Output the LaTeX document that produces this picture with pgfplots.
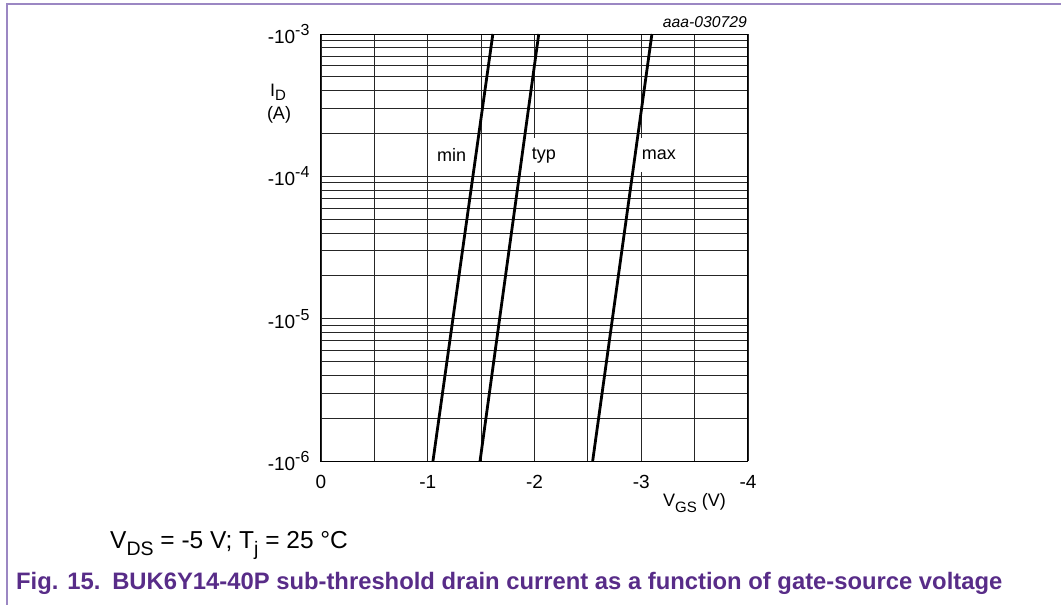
\documentclass[border=0pt]{standalone}
\usepackage{fontspec}
\setmainfont{Liberation Sans}
\usepackage{pgfplots}
\pgfplotsset{compat=1.18}
\definecolor{borderpurple}{RGB}{155,135,195}
\definecolor{titlepurple}{RGB}{88,44,136}
\newcommand{\sz}[1]{\fontsize{#1}{#1}\selectfont}
\newcommand{\ytl}[1]{-10\raisebox{0.42em}{\sz{16}#1}}
\newcommand{\sub}[2]{\raisebox{-0.28em}{\sz{#1}#2}}
\newcommand{\subs}[2]{\raisebox{-0.2em}{\sz{#1}#2}}
\begin{document}
\begin{tikzpicture}[x=1pt,y=1pt]
\path[use as bounding box] (0,0) rectangle (1061,605);
\draw[borderpurple, line width=1.6pt] (7,0) -- (7,601) -- (1061,601);
\begin{axis}[
  at={(321pt,144pt)}, anchor=south west,
  scale only axis, width=427pt, height=427pt,
  xmin=-4, xmax=0, x dir=reverse,
  ymode=log, ymin=1e-6, ymax=1e-3,
  xtick={0,-1,-2,-3,-4}, xticklabels={0,-1,-2,-3,-4},
  minor xtick={-0.5,-1.5,-2.5,-3.5},
  ytick={1e-6,1e-5,1e-4,1e-3},
  yticklabels={\ytl{-6},\ytl{-5},\ytl{-4},\ytl{-3}},
  minor ytick={2e-6,3e-6,4e-6,5e-6,6e-6,7e-6,8e-6,9e-6,
               2e-5,3e-5,4e-5,5e-5,6e-5,7e-5,8e-5,9e-5,
               2e-4,3e-4,4e-4,5e-4,6e-4,7e-4,8e-4,9e-4},
  grid=both,
  major grid style={black!85, line width=0.8pt},
  minor grid style={black!85, line width=0.8pt},
  major tick length=0pt, minor tick length=0pt,
  axis line style={black, line width=1pt},
  ticklabel style={font=\sz{19}},
  xticklabel style={yshift=-11pt},
  yticklabel style={xshift=-8pt},
  clip=false,
]
\addplot[black, line width=2.8pt] coordinates {(-1.049,1e-6) (-1.61,1e-3)};
\addplot[black, line width=2.8pt] coordinates {(-1.49,1e-6) (-2.04,1e-3)};
\addplot[black, line width=2.8pt] coordinates {(-2.545,1e-6) (-3.10,1e-3)};
\node[fill=white, inner xsep=1.5pt, inner ysep=0pt, minimum height=34pt, font=\sz{18}] at (axis cs:-1.224,1.41e-4) {min};
\node[fill=white, inner xsep=1.5pt, inner ysep=0pt, minimum height=34pt, font=\sz{18}] at (axis cs:-2.089,1.41e-4) {typ};
\node[fill=white, inner xsep=1.5pt, inner ysep=0pt, minimum height=34pt, font=\sz{18}] at (axis cs:-3.166,1.41e-4) {max};
\end{axis}
\node[anchor=base, font=\sz{18}, inner sep=0pt] at (278,508) {I\subs{15}{D}};
\node[anchor=base, font=\sz{18}, inner sep=0pt] at (279,485) {(A)};
\node[anchor=base east, font=\sz{15.7}\itshape, inner sep=0pt] at (747,577) {aaa-030729};
\node[anchor=base west, font=\sz{18}, inner sep=0pt] at (663,98) {V\sub{15}{GS} (V)};
\node[anchor=base west, font=\sz{24.5}, inner sep=0pt] at (110,56) {V\sub{19.5}{DS} = -5 V; T\sub{19.5}{j} = 25 °C};
\node[anchor=base west, font=\sz{23.8}\bfseries, text=titlepurple, inner sep=0pt] at (16,15) {Fig. 15.\hspace{0.5em}BUK6Y14-40P sub-threshold drain current as a function of gate-source voltage};
\end{tikzpicture}
\end{document}
